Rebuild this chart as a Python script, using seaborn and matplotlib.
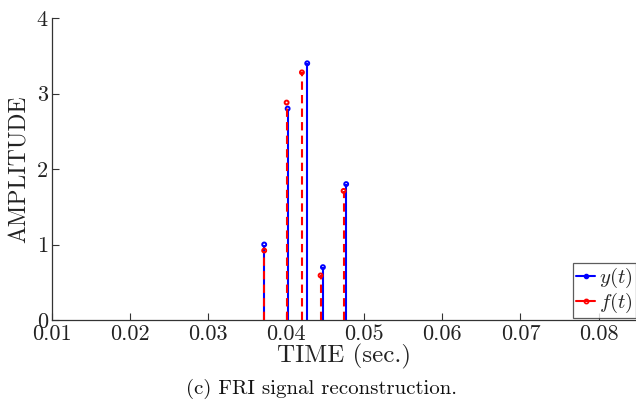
import matplotlib
matplotlib.use("Agg")
import matplotlib.pyplot as plt
from matplotlib.lines import Line2D
import seaborn as sns
import pandas as pd

# data
t_y = [0.03718, 0.04018, 0.04269, 0.04470, 0.04768]
y_vals = [1.0, 2.8, 3.4, 0.7, 1.8]
t_f = [0.03718, 0.04005, 0.04201, 0.04440, 0.04735]
f_vals = [0.92, 2.88, 3.28, 0.59, 1.71]
x_ticks = [0.01, 0.02, 0.03, 0.04, 0.05, 0.06, 0.07, 0.08]
y_ticks = [0, 1, 2, 3, 4]

sns.set_theme(style="ticks")
plt.rcParams["font.family"] = ["cmr10", "DejaVu Serif"]
plt.rcParams["mathtext.fontset"] = "cm"
plt.rcParams["axes.formatter.use_mathtext"] = True

df_y = pd.DataFrame({"t": t_y, "v": y_vals})
df_f = pd.DataFrame({"t": t_f, "v": f_vals})

fig = plt.figure(figsize=(6.36, 4.05), dpi=100)
ax = fig.add_axes([52/636, 1 - 320/405, (636 - 52)/636, (320 - 18)/405])

blue = "#0000ff"
red = "#ff0000"

ax.vlines(df_y["t"], 0, df_y["v"], color=blue, lw=1.5, zorder=2)
sns.scatterplot(data=df_y, x="t", y="v", ax=ax, marker="o", s=8,
                facecolor="none", edgecolor=blue, linewidth=1.4, zorder=3)
ax.vlines(df_f["t"], 0, df_f["v"], color=red, lw=1.5, linestyles=(0, (4, 2.5)), zorder=4)
sns.scatterplot(data=df_f, x="t", y="v", ax=ax, marker="o", s=8,
                facecolor="none", edgecolor=red, linewidth=1.4, zorder=5)

ax.set_xlim(0.01, 0.0848)
ax.set_ylim(0, 4)
ax.set_xticks(x_ticks)
ax.set_xticklabels([f"{v:.2f}" for v in x_ticks])
ax.set_yticks(y_ticks)
ax.set_yticklabels([str(v) for v in y_ticks])
ax.tick_params(direction="in", length=5, width=0.8, color="#333333",
               labelsize=16, labelcolor="#222222", pad=3)
for s in ["top", "right"]:
    ax.spines[s].set_visible(False)
for s in ["left", "bottom"]:
    ax.spines[s].set_color("#333333")
    ax.spines[s].set_linewidth(0.9)

ax.set_xlabel("TIME (sec.)", fontsize=18, color="#222222", labelpad=0)
ax.set_ylabel("AMPLITUDE", fontsize=17, color="#222222", labelpad=4)

handles = [
    Line2D([0], [0], color=blue, lw=1.5, marker="o", markersize=3,
           markerfacecolor=blue, markeredgecolor=blue),
    Line2D([0], [0], color=red, lw=1.5, marker="o", markersize=3,
           markerfacecolor="none", markeredgecolor=red, markeredgewidth=1.2),
]
leg = ax.legend(handles, [r"$y(t)$", r"$f(t)$"], loc="lower right",
                bbox_to_anchor=(1.0, 0.005), fontsize=15, frameon=True,
                fancybox=False, handlelength=0.9, handletextpad=0.2,
                borderpad=0.15, labelspacing=0.05, borderaxespad=0.0)
leg.get_frame().set_edgecolor("#333333")
leg.get_frame().set_linewidth(0.9)

fig.text(322/636, 1 - 389/405, "(c) FRI signal reconstruction.", ha="center",
         va="center", fontsize=15, color="#111111")

fig.savefig("out.png", dpi=100, facecolor="white")
